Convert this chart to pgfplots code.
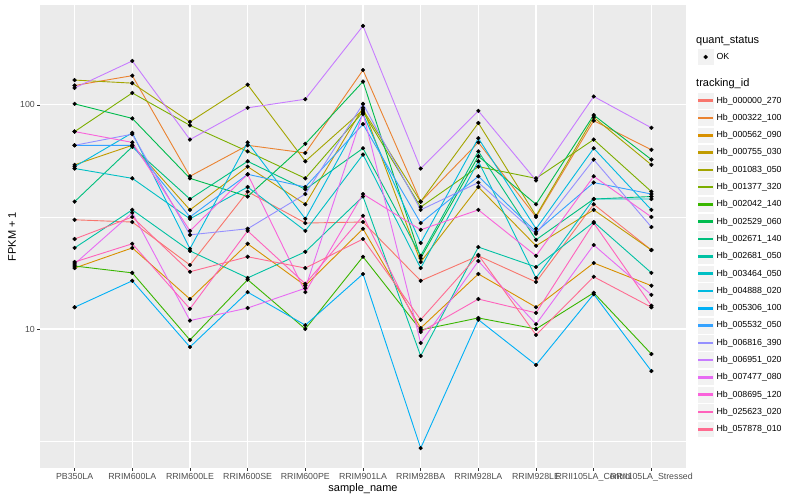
\documentclass[border=0pt]{standalone}
\usepackage{fontspec}
\setmainfont{Liberation Sans}
\usepackage{pgfplots}
\usepackage{pgfplotstable}
\pgfplotsset{compat=1.18}

\definecolor{ggpanel}{HTML}{EBEBEB}
\definecolor{ggkey}{HTML}{F2F2F2}
\definecolor{ggtxt}{HTML}{4D4D4D}
\definecolor{ggtick}{HTML}{333333}
\definecolor{ggc1}{HTML}{F8766D}
\definecolor{ggc2}{HTML}{EA8331}
\definecolor{ggc3}{HTML}{D89000}
\definecolor{ggc4}{HTML}{C09B00}
\definecolor{ggc5}{HTML}{A3A500}
\definecolor{ggc6}{HTML}{7CAE00}
\definecolor{ggc7}{HTML}{39B600}
\definecolor{ggc8}{HTML}{00BB4E}
\definecolor{ggc9}{HTML}{00BF7D}
\definecolor{ggc10}{HTML}{00C1A3}
\definecolor{ggc11}{HTML}{00BFC4}
\definecolor{ggc12}{HTML}{00BAE0}
\definecolor{ggc13}{HTML}{00B0F6}
\definecolor{ggc14}{HTML}{35A2FF}
\definecolor{ggc15}{HTML}{9590FF}
\definecolor{ggc16}{HTML}{C77CFF}
\definecolor{ggc17}{HTML}{E76BF3}
\definecolor{ggc18}{HTML}{FA62DB}
\definecolor{ggc19}{HTML}{FF62BC}
\definecolor{ggc20}{HTML}{FF6C91}

% FPKM + 1 per sample (rows) and tracking id (columns s1..s20)
\pgfplotstableread{
x  s1   s2  s3   s4   s5  s6  s7   s8  s9   s10  s11  s12  s13  s14  s15  s16 s17  s18  s19  s20
0  30.7 122 18.7 54   129 76  19.1 101 37   23   52   53   12.5 66   66   119 19.5 76   19.9 25.2
1  30   135 23   66   125 113 17.8 87  65   34   47   75   16.4 66   74   157 33   68   24   31.6
2  19.3 48  13.6 34   84  81  8.93 47  38   22.3 31   22.8 8.31 31.6 26.3 70  10.9 27.4 12.3 18
3  41   66  24   53   123 62  16.6 39  56   16.9 43   68   14.6 49   28   97  12.4 49   27.4 21
4  29.7 61  15.6 36   56  47  10   67  42   22.1 27.4 31   10.4 43   40   106 15.2 14.6 15.9 18.7
5  30   143 28   97   95  93  21   127 64   39   60   91   17.6 82   101  225 92   40   32   25.2
6  16.4 37  10.1 19.9 37  35  9.9  20.7 21.2 7.58 18.7 24.2 2.94 29.7 34  52  8.66 27.7 9.7  11
7  21.2 68  17.6 43   83  53  11.2 59  62   23.2 56   71   11   48   45   94  20.1 34   13.6 21.4
8  16.2 31.6 12.5 23.5 32 47  10   36  25   18.9 16.9 28   6.91 27.1 26.6 46  10.5 21.2 11.8 9.4
9  36   85  19.7 34   88  70  14.5 90  38   30   38   64   14.3 45   57   109 23.7 48   29.7 17.1
10 22.5 63  15.6 22.5 54  41  7.73 57  39   17.8 38   34   6.49 40   28.5 79  14.2 31.6 12.7 12.5
}\fpkm

\pgfplotsset{
  ggkeybox/.code={\filldraw[fill=ggkey, draw=white, line width=0.6pt] (0.3pt,-8.35pt) rectangle (17pt,8.35pt);},
  gglegend/.style={
    legend style={draw=none, fill=none, inner sep=0pt, outer sep=0pt, row sep=0pt,
      font=\fontsize{8.8}{10}\selectfont, nodes={inner sep=0pt},
      /tikz/every odd column/.append style={column sep=2.2pt}},
    legend cell align=left,
  },
}

\begin{document}
\begin{tikzpicture}
\begin{axis}[
  at={(0pt,0pt)}, anchor=south west,
  scale only axis, width=646pt, height=463pt,
  ymode=log, xmin=-0.6, xmax=10.6, ymin=2.397, ymax=279,
  axis background/.style={fill=ggpanel},
  axis lines*=left, axis line style={draw=none},
  xtick={0,...,10},
  xticklabels={PB350LA,RRIM600LA,RRIM600LE,RRIM600SE,RRIM600PE,RRIM901LA,RRIM928BA,RRIM928LA,RRIM928LE,RRII105LA\_Control,RRII105LA\_Stressed},
  ytick={10,100}, yticklabels={10,100},
  minor ytick={3.1623,31.623},
  xmajorgrids, ymajorgrids, yminorgrids,
  major grid style={white, line width=1.1pt},
  minor grid style={white, line width=0.55pt},
  tick align=outside, major tick length=2.75pt, minor tick length=0pt,
  tick style={ggtick, line width=0.5pt},
  ticklabel style={font=\fontsize{8.8}{10}\selectfont, text=ggtxt, inner sep=0pt},
  xticklabel style={yshift=-2.2pt},
  yticklabel style={xshift=-2.2pt},
  xlabel={sample\_name}, ylabel={FPKM + 1},
  label style={font=\fontsize{11}{13}\selectfont},
  x label style={at={(axis description cs:0.5,-0.0454)}, anchor=center},
  y label style={at={(axis description cs:-0.0433,0.5)}, anchor=center},
  gglegend,
  legend style={at={(1.01703,0.81210)}, anchor=north west},
  legend image code/.code={\pgfplotsset{ggkeybox}\fill[#1] (1.7pt,-0.8pt) rectangle (15.6pt,0.8pt);},
  legend entries={Hb\_000000\_270,Hb\_000322\_100,Hb\_000562\_090,Hb\_000755\_030,Hb\_001083\_050,Hb\_001377\_320,Hb\_002042\_140,Hb\_002529\_060,Hb\_002671\_140,Hb\_002681\_050,Hb\_003464\_050,Hb\_004888\_020,Hb\_005306\_100,Hb\_005532\_050,Hb\_006816\_390,Hb\_006951\_020,Hb\_007477\_080,Hb\_008695\_120,Hb\_025623\_020,Hb\_057878\_010},
]
\pgfplotsinvokeforeach{1,...,20}{
  \addplot[color=ggc#1, line width=0.9pt, no markers] table[x=x, y=s#1] {\fpkm};
}
\pgfplotsinvokeforeach{1,...,20}{
  \addplot[forget plot, only marks, mark=*, mark size=1.9pt, black] table[x=x, y=s#1] {\fpkm};
}
\end{axis}

% second, empty axis carrying the quant_status legend
\begin{axis}[
  at={(0pt,0pt)}, anchor=south west,
  scale only axis, width=646pt, height=463pt,
  hide axis, xmin=0, xmax=1, ymin=0, ymax=1,
  gglegend,
  legend style={at={(1.01703,0.90637)}, anchor=north west},
  legend image code/.code={\pgfplotsset{ggkeybox}\fill[black] (8.65pt,0pt) circle (1.9pt);},
]
\addlegendimage{black}
\addlegendentry{OK}
\end{axis}

\node[anchor=west, inner sep=0pt, font=\fontsize{11}{13}\selectfont] at (656pt,427.3pt) {quant\_status};
\node[anchor=west, inner sep=0pt, font=\fontsize{11}{13}\selectfont] at (656pt,384pt) {tracking\_id};

\pgfresetboundingbox
\path[use as bounding box] (-40pt,-32pt) rectangle (760pt,468pt);
\end{tikzpicture}
\end{document}
